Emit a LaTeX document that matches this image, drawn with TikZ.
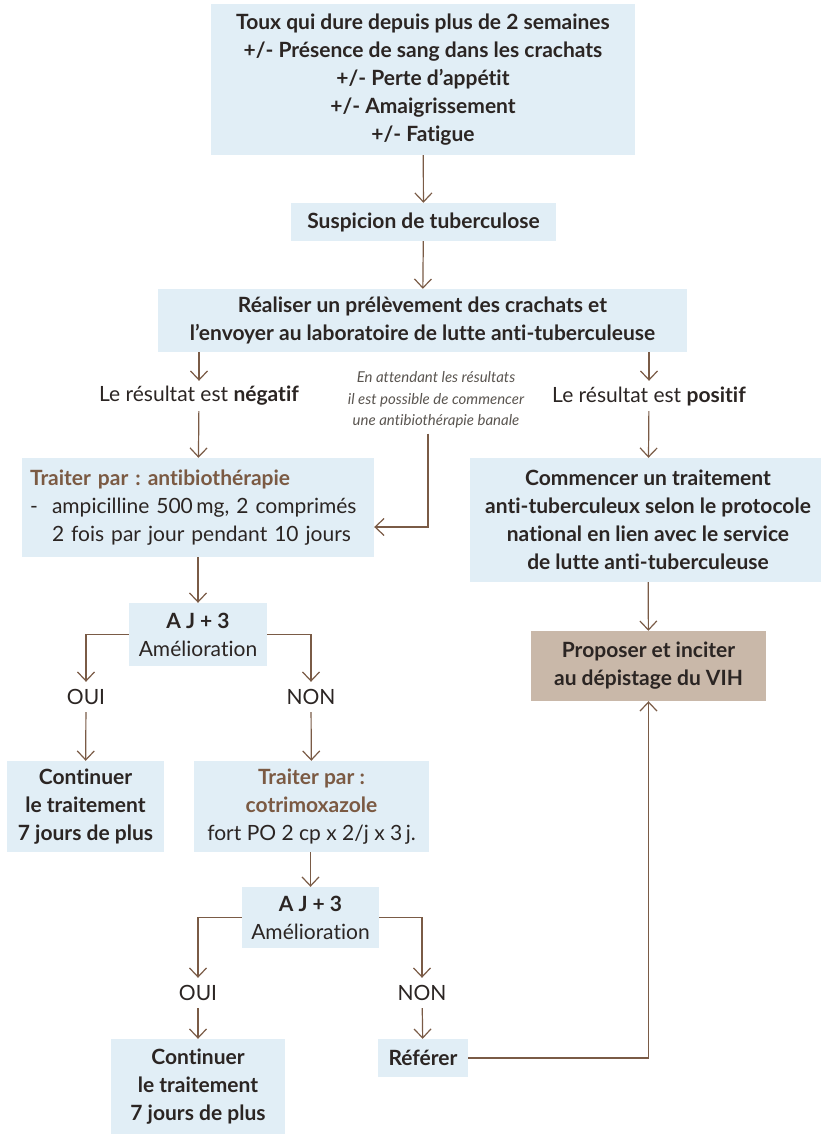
\documentclass[tikz,border=0pt]{standalone}
\usepackage{fontspec}
\setmainfont{Lato}[Ligatures=NoCommon]
\usetikzlibrary{arrows.meta}
\frenchspacing

\definecolor{boxblue}{HTML}{E1EEF6}
\definecolor{boxtan}{HTML}{C9B8A9}
\definecolor{linebrown}{HTML}{7A5B46}
\definecolor{txtbrown}{HTML}{7B5A43}
\definecolor{txtdark}{HTML}{2B2523}
\definecolor{notegray}{HTML}{5A5550}

\tikzset{
  box/.style={fill=boxblue, inner sep=0pt, align=center, text=txtdark,
    font=\fontsize{21}{28}\selectfont\bfseries},
  lbl/.style={inner sep=0pt, minimum height=30pt, text=txtdark,
    font=\fontsize{21}{28}\selectfont},
  note/.style={align=center, inner sep=0pt, text=notegray,
    font=\fontsize{15}{21.5}\selectfont\itshape},
  arr/.style={draw=linebrown, line width=1.2pt,
    -{Straight Barb[length=9pt,width=17pt]}},
}

\begin{document}
\begin{tikzpicture}[x=1pt,y=-1pt]
        \useasboundingbox (0,0) rectangle (821,1134);
        % Main spine
        \node[box, minimum width=424pt, minimum height=151pt] (toux) at (423,79.5)
          {Toux qui dure depuis plus de 2 semaines\\ +/- Présence de sang dans les crachats\\
           +/- Perte d’appétit\\ +/- Amaigrissement\\ +/- Fatigue};
        \node[box, minimum width=265pt, minimum height=38pt] (susp) at (423.5,222) {Suspicion de tuberculose};
        \node[box, minimum width=529pt, minimum height=63pt] (prel) at (422.5,320.5)
          {Réaliser un prélèvement des crachats et\\ l’envoyer au laboratoire de lutte anti-tuberculeuse};
        \draw[arr] (toux) -- (susp);
        \draw[arr] (susp) -- (prel);

        % Negative branch
        \node[lbl] (neg) at (199,396) {Le résultat est \textbf{négatif}};
        \node[box, minimum width=352pt, minimum height=99pt, align=left, text width=336pt] (trait1) at (198,507.5)
          {\textcolor{txtbrown}{Traiter par : antibiothérapie}\\
           \mdseries\makebox[22pt][l]{-}ampicilline 500\,mg, 2 comprimés\\
           \hspace*{22pt}2 fois par jour pendant 10 jours};
        \draw[arr] (neg|-prel.south) -- (neg.north);
        \draw[arr] (neg) -- (trait1);

        % Note while waiting
        \node[note] (wait) at (436,400)
          {En attendant les résultats\\ il est possible de commencer\\ une antibiothérapie banale};
        \coordinate (wbend) at (428,527);
        \draw[arr] (wbend|-wait.south) ++(0,5) -- (wbend) -- (trait1.east|-wbend);

        % Positive branch
        \node[lbl] (pos) at (649,396) {Le résultat est \textbf{positif}};
        \node[box, minimum width=356pt, minimum height=124pt] (comm) at (648,520)
          {Commencer un traitement\\ anti-tuberculeux selon le protocole\\
           national en lien avec le service\\ de lutte anti-tuberculeuse};
        \node[box, fill=boxtan, minimum width=235pt, minimum height=70pt] (vih) at (648.5,666)
          {Proposer et inciter\\ au dépistage du VIH};
        \draw[arr] (pos|-prel.south) -- (pos.north);
        \draw[arr] (pos) -- (comm);
        \draw[arr] (comm) -- (vih);

        % First check at day 3
        \node[box, minimum width=138pt, minimum height=63pt] (aj1) at (198,634.5)
          {A J + 3\\ \mdseries Amélioration};
        \node[lbl] (oui1) at (86,697) {OUI};
        \node[lbl] (non1) at (311,697) {NON};
        \node[box, minimum width=157pt, minimum height=91pt] (cont1) at (85.5,806.5)
          {Continuer\\ le traitement\\ 7 jours de plus};
        \node[box, minimum width=235pt, minimum height=91pt] (trait2) at (311.5,806.5)
          {\textcolor{txtbrown}{Traiter par :}\\ \textcolor{txtbrown}{cotrimoxazole}\\
           \mdseries fort PO 2 cp x 2/j x 3\,j.};
        \draw[arr] (trait1) -- (aj1);
        \draw[arr] (aj1.west) -| (oui1.north);
        \draw[arr] (aj1.east) -| (non1.north);
        \draw[arr] (oui1) -- (cont1);
        \draw[arr] (non1) -- (trait2);

        % Second check at day 3
        \node[box, minimum width=137pt, minimum height=61pt] (aj2) at (310.5,917.5)
          {A J + 3\\ \mdseries Amélioration};
        \node[lbl] (oui2) at (198,993) {OUI};
        \node[lbl] (non2) at (422,993) {NON};
        \node[box, minimum width=174pt, minimum height=95pt] (cont2) at (198,1086.5)
          {Continuer\\ le traitement\\ 7 jours de plus};
        \node[box, minimum width=90pt, minimum height=38pt] (ref) at (423,1058) {Référer};
        \draw[arr] (trait2.south-|aj2) -- (aj2.north);
        \draw[arr] (aj2.west) -| (oui2.north);
        \draw[arr] (aj2.east) -| (non2.north);
        \draw[arr] (oui2) -- (cont2);
        \draw[arr] (non2) -- (ref);
        \draw[arr] (ref.east) -| (vih.south);
    \end{tikzpicture}
\end{document}
